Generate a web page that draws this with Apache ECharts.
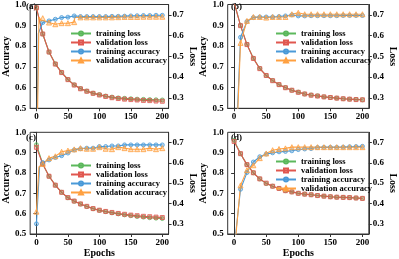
<!DOCTYPE html>
<html><head><meta charset="utf-8">
<script src="https://cdn.jsdelivr.net/npm/echarts@6/dist/echarts.min.js"></script>
<style>html,body{margin:0;padding:0;background:#fff}#c{width:399px;height:259px}</style>
</head><body><div id="c"></div>
<script>
// ---- data ----
const epochs = [0,10,20,30,40,50,60,70,80,90,100,110,120,130,140,150,160,170,180,190,200];
const xTicks = [0,50,100,150,200];
const lossTicks = [0.3,0.4,0.5,0.6,0.7];
const panelLabels = ['(a)','(b)','(c)','(d)'];
const seriesNames = ['training loss','validation loss','training accuracy','validation accuracy'];

const aTrainLoss = [0.734,0.608,0.521,0.464,0.423,0.389,0.363,0.345,0.333,0.323,0.316,0.309,0.304,0.300,0.298,0.296,0.294,0.293,0.292,0.291,0.290];
const aValLoss   = [0.734,0.608,0.521,0.463,0.422,0.388,0.362,0.344,0.332,0.322,0.314,0.307,0.301,0.297,0.294,0.292,0.290,0.288,0.287,0.285,0.284];
const aTrainAcc  = [[0,0.20],[3,0.86],[10,0.913],[20,0.921],[30,0.929],[40,0.937],[50,0.939],[60,0.945],[70,0.942],[80,0.942],[90,0.942],[100,0.942],[110,0.942],[120,0.943],[130,0.943],[140,0.944],[150,0.945],[160,0.946],[170,0.947],[180,0.947],[190,0.948],[200,0.948]];
const aValAcc    = [[0,0.10],[4,0.94],[7,0.925],[10,0.934],[20,0.913],[30,0.905],[40,0.910],[50,0.910],[60,0.915],[61,0.938],[70,0.938],[80,0.938],[90,0.938],[100,0.938],[110,0.938],[120,0.938],[130,0.939],[140,0.940],[150,0.940],[160,0.940],[170,0.941],[180,0.941],[190,0.941],[200,0.941]];

const bTrainLoss = [0.760,0.649,0.558,0.491,0.442,0.408,0.384,0.364,0.350,0.337,0.328,0.319,0.314,0.310,0.305,0.302,0.299,0.296,0.294,0.293,0.291];
const bValLoss   = [0.760,0.648,0.557,0.490,0.441,0.408,0.383,0.364,0.349,0.337,0.327,0.319,0.313,0.309,0.305,0.302,0.299,0.296,0.294,0.292,0.291];
const bTrainAcc  = [[0,0.10],[10,0.842],[20,0.918],[30,0.937],[40,0.940],[50,0.940],[60,0.940],[70,0.942],[80,0.945],[90,0.950],[100,0.945],[110,0.945],[120,0.946],[130,0.946],[140,0.946],[150,0.946],[160,0.946],[170,0.947],[180,0.947],[190,0.947],[200,0.947]];
const bValAcc    = [[0,0.05],[10,0.815],[20,0.921],[30,0.940],[40,0.940],[50,0.937],[60,0.940],[70,0.940],[80,0.940],[90,0.953],[100,0.960],[110,0.953],[120,0.953],[130,0.953],[140,0.953],[150,0.953],[160,0.953],[170,0.953],[180,0.953],[190,0.953],[200,0.953]];

const cTrainLoss = [0.689,0.594,0.534,0.490,0.455,0.428,0.411,0.397,0.385,0.374,0.366,0.360,0.354,0.349,0.344,0.340,0.336,0.333,0.330,0.328,0.326];
const cValLoss   = [0.676,0.594,0.534,0.490,0.455,0.429,0.412,0.398,0.386,0.375,0.367,0.361,0.356,0.351,0.347,0.343,0.340,0.337,0.335,0.333,0.331];
const cTrainAcc  = [[0,0.55],[5,0.83],[10,0.851],[20,0.864],[30,0.876],[40,0.885],[50,0.898],[60,0.913],[70,0.919],[80,0.922],[90,0.922],[100,0.930],[110,0.930],[120,0.933],[130,0.933],[140,0.938],[150,0.938],[160,0.938],[170,0.938],[180,0.938],[190,0.938],[200,0.938]];
const cValAcc    = [[0,0.61],[4,0.83],[10,0.845],[20,0.873],[30,0.882],[40,0.904],[50,0.910],[60,0.916],[70,0.922],[80,0.919],[90,0.919],[100,0.927],[110,0.919],[120,0.917],[130,0.927],[140,0.922],[150,0.917],[160,0.917],[170,0.917],[180,0.922],[190,0.917],[200,0.922]];

const dTrainLoss = [0.710,0.645,0.591,0.551,0.521,0.498,0.485,0.474,0.463,0.457,0.450,0.446,0.443,0.439,0.436,0.433,0.431,0.430,0.429,0.427,0.425];
const dValLoss   = [0.705,0.645,0.591,0.551,0.521,0.500,0.485,0.474,0.463,0.457,0.450,0.446,0.443,0.439,0.436,0.433,0.431,0.430,0.429,0.427,0.425];
const dTrainAcc  = [[0,0.43],[10,0.720],[20,0.802],[30,0.854],[40,0.880],[50,0.893],[60,0.899],[70,0.904],[80,0.906],[90,0.909],[100,0.915],[110,0.918],[120,0.920],[130,0.925],[140,0.926],[150,0.926],[160,0.926],[170,0.927],[180,0.929],[190,0.930],[200,0.931]];
const dValAcc    = [[0,0.40],[10,0.739],[20,0.814],[30,0.838],[40,0.873],[50,0.896],[60,0.912],[70,0.918],[80,0.921],[90,0.927],[100,0.927],[110,0.927],[120,0.927],[130,0.927],[140,0.927],[150,0.927],[160,0.927],[170,0.927],[180,0.927],[190,0.927],[200,0.927]];

// ---- layout / style ----
const FONT = 'Liberation Serif';
const panels = [
  {tl:aTrainLoss, vl:aValLoss, ta:aTrainAcc, va:aValAcc},
  {tl:bTrainLoss, vl:bValLoss, ta:bTrainAcc, va:bValAcc},
  {tl:cTrainLoss, vl:cValLoss, ta:cTrainAcc, va:cValAcc},
  {tl:dTrainLoss, vl:dValLoss, ta:dTrainAcc, va:dValAcc}
];
const grids = [
  {left:24, top:2.7, width:144.6, height:105.6, show:true, borderColor:'#333', borderWidth:1},
  {left:227.7, top:2.7, width:145.6, height:105.6, show:true, borderColor:'#333', borderWidth:1},
  {left:24, top:132.3, width:144.6, height:107, show:true, borderColor:'#333', borderWidth:1},
  {left:227.7, top:132.3, width:145.6, height:107, show:true, borderColor:'#333', borderWidth:1}
];
const legendPos = [{left:70, top:29},{left:275, top:29},{left:70, top:161},{left:275, top:157}];
const labelPos = [{left:26, top:2},{left:231, top:2},{left:26, top:133},{left:231, top:133}];
const styles = [
  {color:'#5cb85c', fill:'rgba(92,184,92,0.35)', symbol:'circle'},
  {color:'#e0574f', fill:'rgba(224,87,79,0.35)', symbol:'rect'},
  {color:'#4a9ad8', fill:'rgba(74,154,216,0.35)', symbol:'circle'},
  {color:'#ffa040', fill:'rgba(255,160,64,0.35)', symbol:'triangle'}
];
const tickText = {fontFamily:FONT, fontWeight:'bold', fontSize:9, color:'#000'};
const legendText = {fontFamily:FONT, fontWeight:'bold', fontSize:8.5, color:'#000', lineHeight:8.5};
const nameText = {fontFamily:FONT, fontWeight:'bold', fontSize:10, color:'#000'};

function markPts(pts){
  return pts.map(p => (p[0] % 10 === 0) ? p : {value:p, symbol:'none'});
}

const xAxis = [], yAxis = [], series = [], legend = [], graphic = [];
panels.forEach((p, i) => {
  xAxis.push({
    gridIndex:i, type:'value', min:-10, max:210,
    axisLine:{show:true, onZero:false, lineStyle:{color:'#333', width:1}},
    axisTick:{show:true, length:3, customValues:xTicks, lineStyle:{color:'#333'}},
    axisLabel:{customValues:xTicks, margin:4, ...tickText},
    splitLine:{show:false},
    name: i >= 2 ? 'Epochs' : '', nameLocation:'middle', nameGap:14, nameTextStyle:nameText
  });
  yAxis.push({
    gridIndex:i, type:'value', min:0.5, max:1.0, interval:0.1, position:'left',
    axisLine:{show:true, lineStyle:{color:'#333', width:1}},
    axisTick:{show:true, length:3, lineStyle:{color:'#333'}},
    axisLabel:{margin:4, formatter:v => v.toFixed(1), ...tickText},
    splitLine:{show:false},
    name:'Accuracy', nameLocation:'middle', nameGap:18, nameTextStyle:nameText
  });
  yAxis.push({
    gridIndex:i, type:'value', min:0.25, max:0.75, position:'right',
    axisLine:{show:true, lineStyle:{color:'#333', width:1}},
    axisTick:{show:true, length:3, customValues:lossTicks, lineStyle:{color:'#333'}},
    axisLabel:{customValues:lossTicks, margin:4, formatter:v => v.toFixed(1), ...tickText},
    splitLine:{show:false},
    name:'Loss', nameLocation:'middle', nameGap:19, nameRotate:-90, nameTextStyle:nameText
  });
  const dataSets = [
    epochs.map((e, k) => [e, p.tl[k]]),
    epochs.map((e, k) => [e, p.vl[k]]),
    p.ta, p.va
  ];
  dataSets.forEach((d, s) => {
    const st = styles[s];
    series.push({
      type:'line', name:seriesNames[s], xAxisIndex:i, yAxisIndex: s < 2 ? 2*i+1 : 2*i,
      data: markPts(d), symbol:st.symbol, symbolSize: st.symbol === 'triangle' ? 5 : 4,
      showAllSymbol:true, clip:true,
      lineStyle:{color:st.color, width:1.1},
      itemStyle:{color:st.fill, borderColor:st.color, borderWidth:0.8},
      emphasis:{disabled:true}
    });
  });
  legend.push({
    orient:'vertical', left:legendPos[i].left, top:legendPos[i].top, padding:0,
    itemWidth:20, itemHeight:5, itemGap:0, selectedMode:false,
    textStyle:legendText,
    data:seriesNames
  });
  graphic.push({type:'text', left:labelPos[i].left, top:labelPos[i].top,
    style:{text:panelLabels[i], font:'bold 9px ' + FONT, fill:'#000'}});
});

const chart = echarts.init(document.getElementById('c'), null, {renderer:'canvas'});
chart.setOption({animation:false, grid:grids, xAxis, yAxis, series, legend, graphic});
</script></body></html>
